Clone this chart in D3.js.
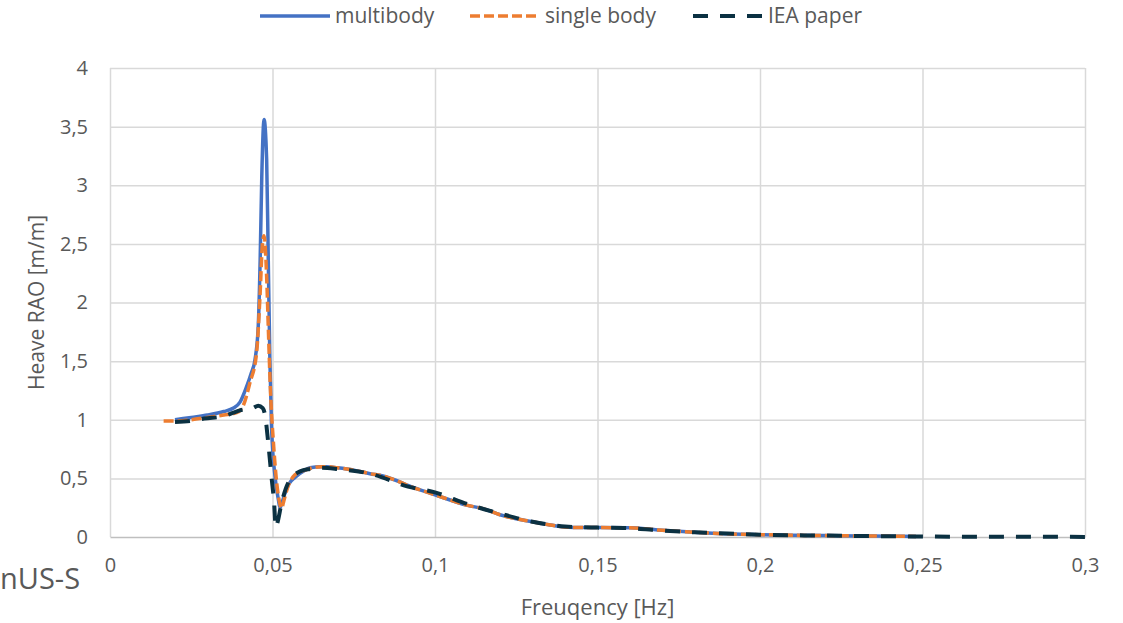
<!DOCTYPE html>
<html>
<head>
<meta charset="utf-8">
<script src="https://cdn.jsdelivr.net/npm/d3@7"></script>
<style>
  body { margin: 0; background: #fff; }
  svg { display: block; }
  text { font-family: "Open Sans", sans-serif; fill: #595959; }
</style>
</head>
<body>
<svg id="chart" width="1123" height="623"></svg>
<script>
// Ticks
const xTicks = [0, 0.05, 0.1, 0.15, 0.2, 0.25, 0.3];
const xTickLabels = ["0", "0,05", "0,1", "0,15", "0,2", "0,25", "0,3"];
const yTicks = [0, 0.5, 1, 1.5, 2, 2.5, 3, 3.5, 4];
const yTickLabels = ["0", "0,5", "1", "1,5", "2", "2,5", "3", "3,5", "4"];

// multibody
const multiFreq = [0.020, 0.025, 0.030, 0.035, 0.038, 0.040, 0.042, 0.0435, 0.0446, 0.0456, 0.0462, 0.0467, 0.0474, 0.0482, 0.0487, 0.0492, 0.0497, 0.0508, 0.0518, 0.0523, 0.0530, 0.0538, 0.0550, 0.057, 0.060, 0.0615, 0.065, 0.0667, 0.070, 0.075, 0.080, 0.084, 0.090, 0.0917, 0.100, 0.110, 0.115, 0.120, 0.130, 0.135, 0.140, 0.145, 0.150, 0.160, 0.1686, 0.180, 0.187, 0.200, 0.210, 0.220, 0.230, 0.240, 0.248];
const multiRao = [1.00, 1.02, 1.04, 1.07, 1.10, 1.15, 1.28, 1.40, 1.51, 1.79, 2.36, 3.07, 3.56, 3.22, 2.36, 1.51, 0.94, 0.51, 0.32, 0.25, 0.30, 0.37, 0.45, 0.51, 0.57, 0.59, 0.60, 0.60, 0.59, 0.57, 0.54, 0.52, 0.46, 0.44, 0.36, 0.27, 0.24, 0.19, 0.13, 0.105, 0.085, 0.08, 0.08, 0.078, 0.06, 0.04, 0.03, 0.02, 0.015, 0.012, 0.009, 0.007, 0.005];

// single body
const singleFreq = [0.0165, 0.020, 0.025, 0.030, 0.035, 0.039, 0.041, 0.043, 0.0451, 0.0462, 0.0469, 0.0474, 0.0482, 0.0487, 0.0494, 0.0503, 0.0513, 0.0520, 0.0528, 0.0535, 0.0544, 0.0569, 0.060, 0.065, 0.0667, 0.070, 0.075, 0.080, 0.084, 0.090, 0.0917, 0.100, 0.110, 0.115, 0.120, 0.130, 0.135, 0.140, 0.145, 0.150, 0.160, 0.1686, 0.180, 0.187, 0.200, 0.210, 0.220, 0.230, 0.240, 0.248];
const singleRao = [0.99, 0.99, 1.00, 1.02, 1.04, 1.06, 1.12, 1.31, 1.57, 2.08, 2.50, 2.57, 2.22, 1.79, 1.23, 0.80, 0.46, 0.32, 0.245, 0.31, 0.40, 0.53, 0.57, 0.60, 0.60, 0.59, 0.57, 0.54, 0.52, 0.46, 0.44, 0.36, 0.27, 0.24, 0.19, 0.13, 0.105, 0.085, 0.08, 0.08, 0.078, 0.06, 0.04, 0.03, 0.02, 0.015, 0.012, 0.009, 0.007, 0.005];

// IEA paper
const ieaFreq = [0.020, 0.025, 0.029, 0.035, 0.038, 0.040, 0.044, 0.0456, 0.0470, 0.0477, 0.0487, 0.0497, 0.0505, 0.0510, 0.0515, 0.0528, 0.0548, 0.0585, 0.0615, 0.065, 0.070, 0.080, 0.0917, 0.100, 0.110, 0.120, 0.130, 0.140, 0.150, 0.160, 0.170, 0.180, 0.190, 0.200, 0.220, 0.250, 0.270, 0.300];
const ieaRao = [0.98, 0.99, 1.01, 1.03, 1.06, 1.08, 1.10, 1.12, 1.10, 1.04, 0.80, 0.51, 0.29, 0.08, 0.12, 0.29, 0.46, 0.56, 0.58, 0.59, 0.58, 0.54, 0.43, 0.38, 0.28, 0.20, 0.13, 0.09, 0.08, 0.075, 0.055, 0.04, 0.03, 0.02, 0.012, 0.004, 0.002, 0.001];

const svg = d3.select("#chart");
const margin = { left: 110, right: 1085, top: 68, bottom: 537 };

const x = d3.scaleLinear().domain([0, 0.3]).range([margin.left, margin.right]);
const y = d3.scaleLinear().domain([0, 4]).range([margin.bottom, margin.top]);

// gridlines
svg.append("g")
    .attr("transform", `translate(0,${margin.bottom})`)
    .call(d3.axisBottom(x).tickValues(xTicks).tickSize(-(margin.bottom - margin.top)).tickFormat(""))
    .call(g => g.select(".domain").remove())
    .call(g => g.selectAll("line").attr("stroke", "#d9d9d9").attr("stroke-width", 1.5));

svg.append("g")
    .attr("transform", `translate(${margin.left},0)`)
    .call(d3.axisLeft(y).tickValues(yTicks.slice(1)).tickSize(-(margin.right - margin.left)).tickFormat(""))
    .call(g => g.select(".domain").remove())
    .call(g => g.selectAll("line").attr("stroke", "#d9d9d9").attr("stroke-width", 1.5));

// x axis
svg.append("g")
    .attr("transform", `translate(0,${margin.bottom})`)
    .call(d3.axisBottom(x).tickValues(xTicks).tickSize(0).tickPadding(21)
        .tickFormat((d, i) => xTickLabels[i]))
    .call(g => g.select(".domain").attr("stroke", "#bfbfbf").attr("stroke-width", 1.5))
    .call(g => g.selectAll("text").attr("font-size", 20).attr("fill", "#595959")
        .style("font-family", "'Open Sans', sans-serif"));

// y axis
svg.append("g")
    .attr("transform", `translate(${margin.left},0)`)
    .call(d3.axisLeft(y).tickValues(yTicks).tickSize(0).tickPadding(22)
        .tickFormat((d, i) => yTickLabels[i]))
    .call(g => g.select(".domain").remove())
    .call(g => g.selectAll("text").attr("font-size", 20).attr("fill", "#595959")
        .style("font-family", "'Open Sans', sans-serif"));

// axis titles
svg.append("text")
    .attr("x", (margin.left + margin.right) / 2)
    .attr("y", 615)
    .attr("text-anchor", "middle")
    .attr("font-size", 22)
    .text("Freuqency [Hz]");

svg.append("text")
    .attr("transform", `translate(44,${(margin.top + margin.bottom) / 2}) rotate(-90)`)
    .attr("text-anchor", "middle")
    .attr("font-size", 21)
    .text("Heave RAO [m/m]");

// leftover slide label at the left edge
svg.append("text")
    .attr("x", 0)
    .attr("y", 589)
    .attr("font-size", 29)
    .text("nUS-S");

// lines
const series = [
    { name: "multibody", freq: multiFreq, rao: multiRao, color: "#4472c4", width: 3.5, dash: null },
    { name: "single body", freq: singleFreq, rao: singleRao, color: "#ed7d31", width: 3.5, dash: "10,4" },
    { name: "IEA paper", freq: ieaFreq, rao: ieaRao, color: "#0b3142", width: 4, dash: "15,12" }
];

const line = d3.line()
    .x(d => x(d[0]))
    .y(d => y(d[1]))
    .curve(d3.curveMonotoneX);

series.forEach(s => {
    svg.append("path")
        .datum(d3.zip(s.freq, s.rao))
        .attr("fill", "none")
        .attr("stroke", s.color)
        .attr("stroke-width", s.width)
        .attr("stroke-dasharray", s.dash)
        .attr("stroke-linejoin", "round")
        .attr("d", line);
});

// legend
const legendX = [260, 470, 693];
const legend = svg.append("g");
series.forEach((s, i) => {
    legend.append("line")
        .attr("x1", legendX[i]).attr("x2", legendX[i] + 70)
        .attr("y1", 16).attr("y2", 16)
        .attr("stroke", s.color)
        .attr("stroke-width", s.width)
        .attr("stroke-dasharray", s.dash);
    legend.append("text")
        .attr("x", legendX[i] + 75)
        .attr("y", 16)
        .attr("dy", "0.35em")
        .attr("font-size", 21)
        .text(s.name);
});
</script>
</body>
</html>
